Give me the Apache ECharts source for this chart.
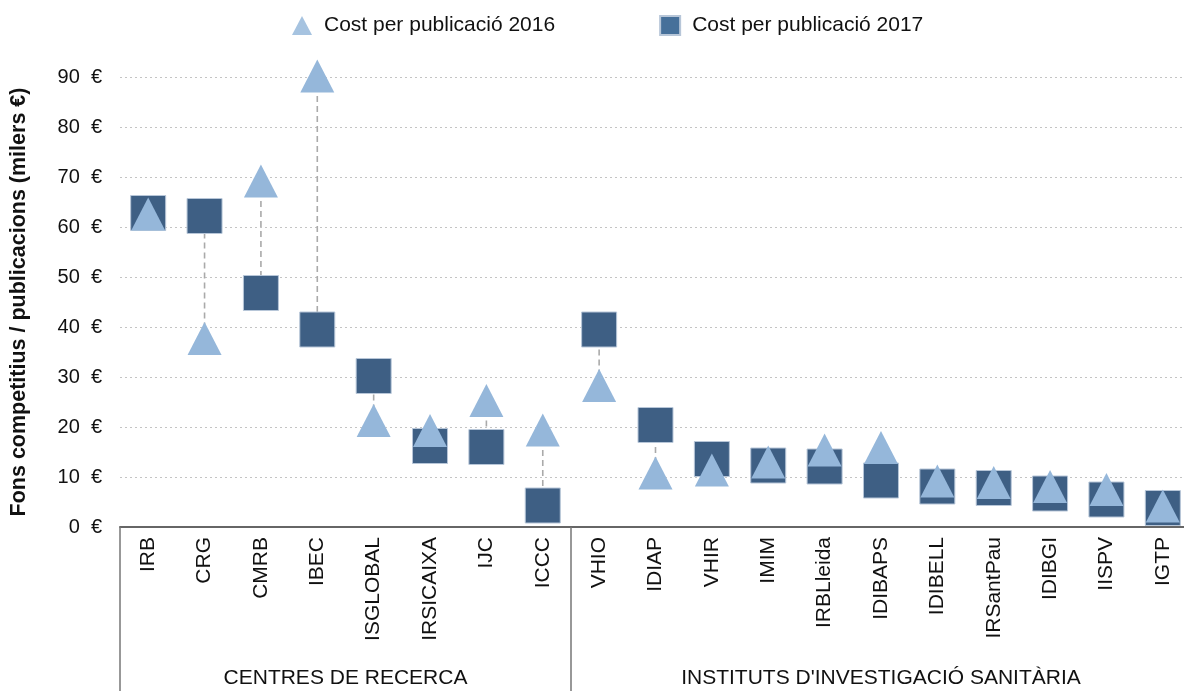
<!DOCTYPE html>
<html>
<head>
<meta charset="utf-8">
<script src="https://cdn.jsdelivr.net/npm/echarts@6/dist/echarts.min.js"></script>
<style>
  html, body { margin: 0; padding: 0; background: #fff; overflow: hidden; }
  #chart { width: 1191px; height: 691px; }
</style>
</head>
<body>
<div id="chart"></div>
<script>
var categories = ['IRB', 'CRG', 'CMRB', 'IBEC', 'ISGLOBAL', 'IRSICAIXA', 'IJC', 'ICCC',
  'VHIO', 'IDIAP', 'VHIR', 'IMIM', 'IRBLleida', 'IDIBAPS', 'IDIBELL', 'IRSantPau', 'IDIBGI', 'IISPV', 'IGTP'];
var cost2016 = [62.6, 37.7, 69.2, 90.2, 21.3, 19.3, 25.3, 19.4, 28.3, 10.8, 11.4, 13.0, 15.4, 15.9, 9.2, 8.9, 8.1, 7.5, 4.2];
var cost2017 = [62.8, 62.2, 46.8, 39.5, 30.2, 16.2, 16.0, 4.3, 39.5, 20.4, 13.6, 12.3, 12.1, 9.3, 8.1, 7.8, 6.7, 5.5, 3.8];
var groups = ['CENTRES DE RECERCA', "INSTITUTS D'INVESTIGACIÓ SANITÀRIA"];
var groupSizes = [8, 11];

var name2016 = 'Cost per publicació 2016';
var name2017 = 'Cost per publicació 2017';
var col2016 = '#95b7da';
var col2017 = '#3e5f84';

// group boundaries and centres on a 0..n value scale
var bounds = [0], centres = [];
groupSizes.forEach(function (s) {
  var start = bounds[bounds.length - 1];
  bounds.push(start + s);
  centres.push(start + s / 2);
});

var chart = echarts.init(document.getElementById('chart'));
var font = 'Liberation Sans, Arial, sans-serif';

var option = {
  animation: false,
  textStyle: { fontFamily: font },
  legend: {
    top: 10,
    left: 287,
    itemGap: 104,
    itemWidth: 20,
    itemHeight: 19,
    textStyle: { fontSize: 21, color: '#111', fontFamily: font, padding: [0, 0, 0, 7] },
    data: [
      { name: name2016, icon: 'triangle', itemStyle: { color: '#a6c3e0' } },
      { name: name2017, icon: 'rect', itemStyle: { color: '#46709a' } }
    ]
  },
  grid: { left: 114, right: 0, top: 77, bottom: 164 },
  xAxis: [{
    type: 'category',
    data: categories,
    axisLine: { lineStyle: { color: '#666', width: 2 } },
    axisTick: { interval: 0, length: 125, lineStyle: { color: '#777', width: 1.5 } },
    axisLabel: { interval: 0, rotate: 90, fontSize: 21, color: '#111', margin: 10, fontFamily: font },
    splitLine: { show: false }
  }, {
    type: 'value',
    min: 0,
    max: categories.length,
    position: 'bottom',
    axisLine: { show: false },
    splitLine: { show: false },
    axisTick: { customValues: bounds, length: 164, lineStyle: { color: '#777', width: 1.5 } },
    axisLabel: {
      customValues: centres,
      margin: 141,
      fontSize: 21,
      color: '#111',
      fontFamily: font,
      formatter: function (v) { return groups[centres.indexOf(v)] || ''; }
    }
  }],
  yAxis: {
    type: 'value',
    min: 0,
    max: 90,
    interval: 10,
    name: 'Fons competitius / publicacions (milers €)',
    nameLocation: 'middle',
    nameGap: 90,
    nameTextStyle: { fontSize: 21.5, fontWeight: 'bold', color: '#111', fontFamily: font },
    axisLine: { show: false },
    axisTick: { show: false },
    axisLabel: {
      fontSize: 20, color: '#111', margin: 18, fontFamily: font,
      formatter: function (v) { return v + '  €'; }
    },
    splitLine: { lineStyle: { color: '#c4c4c4', type: [2, 3], width: 1.2 } }
  },
  series: [{
    name: 'connector',
    type: 'custom',
    z: 1,
    silent: true,
    clip: false,
    encode: { x: 0, y: [1, 2] },
    data: categories.map(function (c, i) { return [i, cost2016[i], cost2017[i]]; }),
    renderItem: function (params, api) {
      var a = api.coord([api.value(0), api.value(1)]);
      var b = api.coord([api.value(0), api.value(2)]);
      return {
        type: 'line',
        shape: { x1: a[0], y1: a[1], x2: b[0], y2: b[1] },
        style: { stroke: '#aaaaaa', lineWidth: 1.6, lineDash: [6, 4] }
      };
    }
  }, {
    name: name2017,
    type: 'scatter',
    z: 2,
    clip: false,
    symbol: 'rect',
    symbolSize: 35,
    itemStyle: { color: col2017, borderColor: '#b7c6d8', borderWidth: 1, opacity: 1 },
    data: cost2017.map(function (v, i) { return [i, v]; })
  }, {
    name: name2016,
    type: 'scatter',
    z: 3,
    clip: false,
    symbol: 'triangle',
    symbolSize: [34, 33],
    itemStyle: { color: col2016, opacity: 1 },
    data: cost2016.map(function (v, i) { return [i, v]; })
  }]
};

chart.setOption(option);
window.onresize = function () { chart.resize(); };
</script>
</body>
</html>
